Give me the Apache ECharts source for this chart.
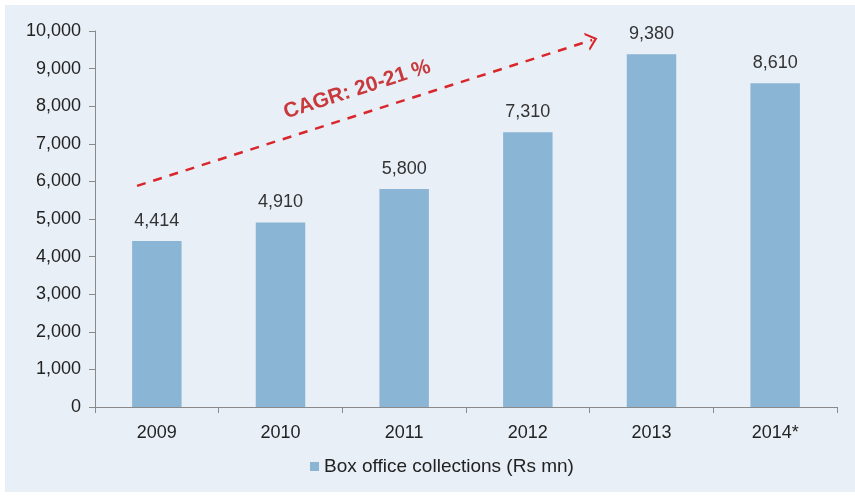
<!DOCTYPE html>
<html>
<head>
<meta charset="UTF-8">
<script src="https://cdn.jsdelivr.net/npm/echarts@6/dist/echarts.min.js"></script>
<style>
 body{margin:0;background:#fff;}
 #main{position:absolute;left:5px;top:5px;width:850px;height:487px;background:#e8eff7;}
</style>
<title>Box office collections</title>
</head>
<body>
<div id="main"></div>
<script type="text/javascript">
// data
var years = ['2009', '2010', '2011', '2012', '2013', '2014*'];
var collections = [4414, 4910, 5800, 7310, 9380, 8610];
var yTicks = [0, 1000, 2000, 3000, 4000, 5000, 6000, 7000, 8000, 9000, 10000];
// CAGR arrow, [category index, value]
var cagrStart = [-0.16, 5880];
var cagrEnd = [3.52, 9760];

var myChart = echarts.init(document.getElementById('main'));
var fmt = function (v) { return String(v).replace(/\B(?=(\d{3})+(?!\d))/g, ','); };

var option = {
    backgroundColor: 'transparent',
    animation: false,
    legend: {
        bottom: 11,
        left: 300,
        icon: 'rect',
        itemWidth: 9,
        itemHeight: 9,
        itemGap: 4,
        textStyle: {fontFamily: 'Liberation Sans Narrow, Liberation Sans', fontSize: 19, color: '#222'},
        data: ['Box office collections (Rs mn)']
    },
    grid: {left: 90, right: 18, top: 26, bottom: 85},
    xAxis: [
        {
            type: 'category',
            data: years,
            axisLine: {lineStyle: {color: '#8a8a8a'}},
            axisTick: {show: true, length: 6, lineStyle: {color: '#8a8a8a'}},
            axisLabel: {margin: 17, fontFamily: 'Liberation Sans Narrow, Liberation Sans', fontSize: 18, color: '#222'}
        },
        {
            type: 'value',
            min: -0.5,
            max: 5.5,
            show: false
        }
    ],
    yAxis: {
        type: 'value',
        min: yTicks[0],
        max: yTicks[yTicks.length - 1],
        interval: 1000,
        splitLine: {show: false},
        axisLine: {show: true, onZero: false, lineStyle: {color: '#8a8a8a'}},
        axisTick: {show: true, length: 6, lineStyle: {color: '#8a8a8a'}},
        axisLabel: {margin: 14, fontFamily: 'Liberation Sans', fontSize: 18, color: '#222', formatter: fmt}
    },
    series: [
        {
            name: 'Box office collections (Rs mn)',
            type: 'bar',
            barWidth: '40%',
            itemStyle: {color: '#8bb5d5'},
            label: {
                show: true,
                position: 'top',
                distance: 11,
                fontFamily: 'Liberation Sans',
                fontSize: 18,
                color: '#333',
                formatter: function (p) { return fmt(p.value); }
            },
            data: collections
        },
        {
            name: 'cagr',
            type: 'line',
            xAxisIndex: 1,
            data: [],
            markLine: {
                silent: true,
                symbol: ['none', 'path://M0,10 L5,0 L10,10 L8.6,10 L5,3 L1.4,10 Z'],
                symbolSize: [19, 11],
                lineStyle: {color: '#d9262a', type: [9, 8], width: 2.5},
                label: {
                    show: true,
                    position: 'middle',
                    distance: 14,
                    formatter: 'CAGR: 20-21 %',
                    fontFamily: 'Liberation Sans',
                    fontWeight: 'bold',
                    fontSize: 21,
                    color: '#c9383a'
                },
                data: [[{coord: cagrStart}, {coord: cagrEnd}]]
            }
        }
    ]
};
myChart.setOption(option);
</script>
</body>
</html>
